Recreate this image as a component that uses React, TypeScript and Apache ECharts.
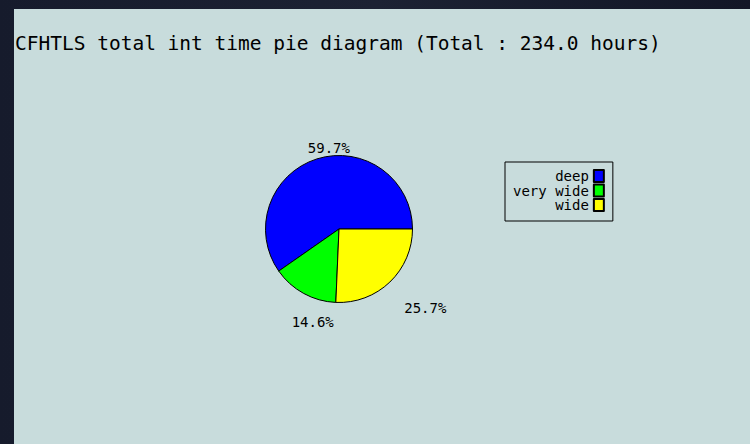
import React, { useEffect, useRef } from "react";
import * as echarts from "echarts";

const categories = ["deep", "very wide", "wide"];
const hours = [139.7, 34.2, 60.1];
const colors = ["#0000ff", "#00ff00", "#ffff00"];
const titleText = "CFHTLS total int time pie diagram (Total : 234.0 hours)";
const labelShift = [
  [41, -1.5],
  [40, 20],
  [2.5, 18.5],
];

const MONO = "'DejaVu Sans Mono', monospace";

export default function App() {
  const ref = useRef<HTMLDivElement>(null);
  useEffect(() => {
    if (!ref.current) return;
    const chart = echarts.init(ref.current, null, { renderer: "svg" });
    chart.setOption({
      animation: false,
      backgroundColor: "transparent",
      graphic: [
        {
          type: "rect",
          silent: true,
          z: -10,
          shape: { x: 14, y: 9, width: 736, height: 435 },
          style: { fill: "#c8dcdc" },
        },
      ],
      title: {
        text: titleText,
        left: 15,
        top: 33,
        padding: 0,
        textStyle: {
          fontFamily: MONO,
          fontSize: 19.5,
          fontWeight: "normal",
          color: "#000",
        },
      },
      legend: {
        data: categories,
        orient: "vertical",
        align: "right",
        left: 505,
        top: 162,
        padding: [7, 8, 9, 8],
        itemWidth: 10,
        itemHeight: 12,
        itemGap: 0.5,
        borderColor: "#000",
        borderWidth: 1,
        selectedMode: false,
        icon: "rect",
        textStyle: {
          fontFamily: MONO,
          fontSize: 14,
          lineHeight: 12,
          color: "#000",
        },
      },
      series: [
        {
          type: "pie",
          center: [339, 229],
          radius: 73.5,
          startAngle: 0,
          clockwise: false,
          silent: true,
          percentPrecision: 1,
          itemStyle: { borderColor: "#000", borderWidth: 1 },
          label: {
            show: true,
            position: "outside",
            formatter: "{d}%",
            fontFamily: MONO,
            fontSize: 14,
            color: "#000",
          },
          labelLine: { show: false, length: 10, length2: 0 },
          labelLayout: (p: any) => ({
            dx: labelShift[p.dataIndex][0],
            dy: labelShift[p.dataIndex][1],
          }),
          data: categories.map((name, i) => ({
            name,
            value: hours[i],
            itemStyle: { color: colors[i] },
          })),
        },
      ],
    });
    return () => chart.dispose();
  }, []);
  return (
    <div
      style={{
        position: "fixed",
        left: 0,
        top: 0,
        width: 750,
        height: 444,
        background: "linear-gradient(90deg, #161b2c 0%, #1c2233 50%, #121626 100%)",
      }}
    >
      <div ref={ref} style={{ width: 750, height: 444 }} />
    </div>
  );
}
